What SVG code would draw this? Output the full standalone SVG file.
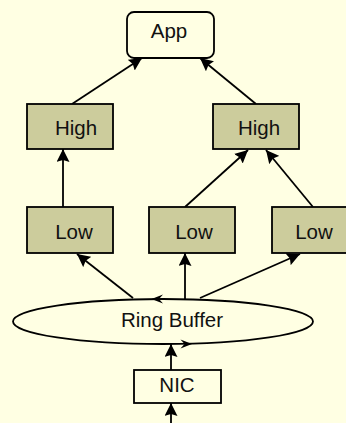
<svg xmlns="http://www.w3.org/2000/svg" width="346" height="423" viewBox="0 0 346 423">
  <style>
    .bg { fill: #FFFFE3; }
    .box { fill: #CCCC9C; stroke: #000; stroke-width: 1.8; }
    .plain { fill: #FFFFE3; stroke: #000; stroke-width: 1.8; }
    .lbl { font-family: "Liberation Sans", Arial, sans-serif; font-size: 20.5px; fill: #111; text-anchor: middle; }
    .edge { stroke: #000; stroke-width: 1.8; fill: none; marker-end: url(#head); }
    .ring { fill: #000; }
  </style>
  <defs>
    <marker id="head" viewBox="0 0 13 13" refX="13" refY="6.5" markerWidth="13" markerHeight="13" markerUnits="userSpaceOnUse" orient="auto">
      <path d="M0,0 L13,6.5 L0,13 L2,6.5 Z" fill="#000"/>
    </marker>
  </defs>

  <rect class="bg" x="0" y="0" width="346" height="423"/>

  <!-- connectors -->
  <g id="connectors">
    <line class="edge" x1="72" y1="104" x2="142" y2="58"/>
    <line class="edge" x1="256" y1="104" x2="200" y2="58"/>
    <line class="edge" x1="63" y1="207" x2="63" y2="149"/>
    <line class="edge" x1="185" y1="207" x2="248" y2="150"/>
    <line class="edge" x1="313" y1="207" x2="266" y2="150"/>
    <line class="edge" x1="133" y1="298" x2="77" y2="254"/>
    <line class="edge" x1="185" y1="299" x2="185" y2="253"/>
    <line class="edge" x1="200" y1="298" x2="300" y2="254"/>
    <line class="edge" x1="171" y1="370" x2="171" y2="344"/>
    <line class="edge" x1="171" y1="423" x2="171" y2="403"/>
  </g>

  <g id="app">
    <rect class="plain" x="127" y="12" width="87" height="46" rx="7" ry="7"/>
    <text class="lbl" x="169" y="38">App</text>
  </g>

  <g id="high-left">
    <rect class="box" x="27" y="104" width="86" height="45"/>
    <text class="lbl" x="76" y="135">High</text>
  </g>
  <g id="high-right">
    <rect class="box" x="213" y="104" width="86" height="45"/>
    <text class="lbl" x="259" y="135">High</text>
  </g>

  <g id="low-left">
    <rect class="box" x="27" y="207" width="86" height="46"/>
    <text class="lbl" x="74" y="239">Low</text>
  </g>
  <g id="low-middle">
    <rect class="box" x="149" y="207" width="86" height="46"/>
    <text class="lbl" x="194" y="239">Low</text>
  </g>
  <g id="low-right">
    <rect class="box" x="272" y="207" width="86" height="46"/>
    <text class="lbl" x="314" y="239">Low</text>
  </g>

  <g id="ring-buffer">
    <ellipse class="plain" cx="163" cy="321.5" rx="150" ry="22.5"/>
    <path class="ring" d="M151.5,299 L163,294.5 L159,299 L163,303.5 Z"/>
    <path class="ring" d="M192,344 L180.5,339.5 L184.5,344 L180.5,348.5 Z"/>
    <text class="lbl" x="172" y="327">Ring Buffer</text>
  </g>

  <g id="nic">
    <rect class="plain" x="134" y="370" width="87" height="33"/>
    <text class="lbl" x="177" y="392">NIC</text>
  </g>
</svg>
